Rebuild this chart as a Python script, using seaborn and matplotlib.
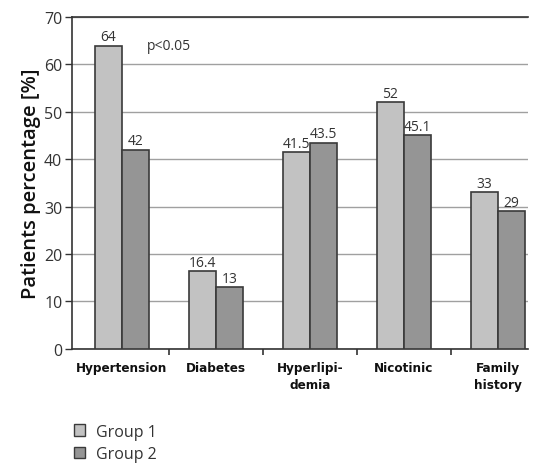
import matplotlib
matplotlib.use("Agg")
import matplotlib.pyplot as plt
import seaborn as sns
import pandas as pd
import numpy as np
from matplotlib.patches import Patch

categories = ["Hypertension", "Diabetes", "Hyperlipi-\ndemia", "Nicotinic", "Family\nhistory"]
group1 = [64, 16.4, 41.5, 52, 33]
group2 = [42, 13, 43.5, 45.1, 29]
series_names = ["Group 1", "Group 2"]
y_ticks = [0, 10, 20, 30, 40, 50, 60, 70]

df = pd.DataFrame({
    "category": categories * 2,
    "value": group1 + group2,
    "group": [series_names[0]] * len(categories) + [series_names[1]] * len(categories),
})

sns.set_theme(style="white")
plt.rcParams["font.family"] = ["Open Sans", "DejaVu Sans"]

fig = plt.figure(figsize=(5.34, 4.64), dpi=100)
ax = fig.add_axes([0.135, 0.246, 0.854, 0.715])

palette = {"Group 1": "#c2c2c2", "Group 2": "#959595"}
sns.barplot(data=df, x="category", y="value", hue="group", palette=palette,
            width=0.58, edgecolor="#3a3a3a", linewidth=1.2, ax=ax,
            legend=False, saturation=1, zorder=3)

ax.set_ylim(0, 70)
ax.set_xlim(-0.53, 4.32)
ax.set_yticks(y_ticks)
ax.set_yticklabels([str(t) for t in y_ticks], fontsize=11.5, color="#333333")
ax.yaxis.grid(True, color="#a0a0a0", linewidth=1, zorder=0)
ax.set_axisbelow(True)

for s in ["left", "bottom", "top"]:
    ax.spines[s].set_visible(True)
    ax.spines[s].set_color("#333333")
    ax.spines[s].set_linewidth(1.2)
ax.spines["right"].set_visible(False)

ax.tick_params(axis="y", which="major", left=True, length=5, width=1, color="#333333", pad=2)
ax.set_xticks(range(len(categories)))
ax.set_xticklabels(categories, fontsize=9.6, fontweight="bold", color="#111111",
                   family=["DejaVu Sans Condensed", "DejaVu Sans"], fontstretch="condensed",
                   linespacing=1.35)
ax.tick_params(axis="x", which="major", bottom=False, length=0, pad=9)
ax.set_xticks(np.arange(0.5, len(categories) - 0.5, 1.0), minor=True)
ax.tick_params(axis="x", which="minor", bottom=True, length=4, width=1.2, color="#333333")

ax.set_xlabel("")
ax.set_ylabel("Patients percentage [%]", fontsize=14.5, fontweight="semibold", color="#111111", labelpad=2)

# value labels above each bar
for container, vals in zip(ax.containers, [group1, group2]):
    labels = [("%g" % v) for v in vals]
    ax.bar_label(container, labels=labels, padding=1, fontsize=10, color="#333333")

ax.text(0.27, 64, "p<0.05", fontsize=10, color="#333333", va="center", ha="left")

# legend below the chart
handles = [Patch(facecolor=palette[n], edgecolor="#3a3a3a", linewidth=1.0) for n in series_names]
fig.legend(handles, series_names, loc="upper left", bbox_to_anchor=(0.138, 0.085),
           frameon=False, fontsize=11.5, handlelength=0.7, handleheight=0.7,
           handletextpad=0.7, labelspacing=0.4, borderaxespad=0, borderpad=0,
           labelcolor="#333333")

fig.savefig("out.png", dpi=100)
